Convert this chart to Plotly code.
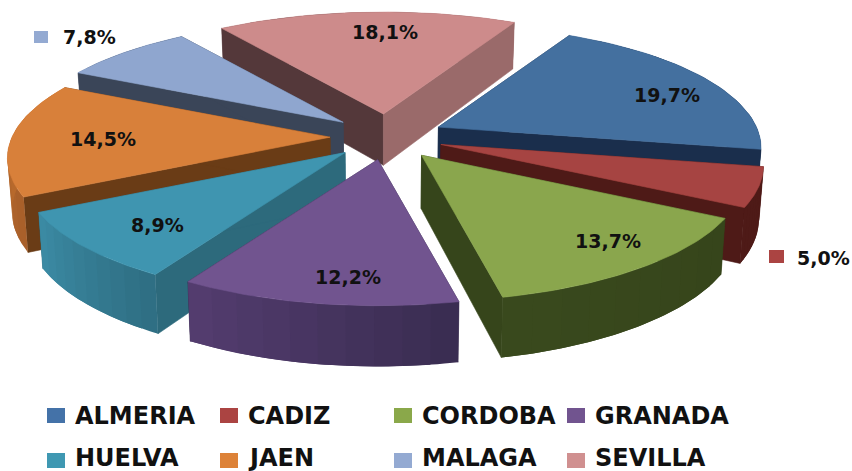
import math
import plotly.graph_objects as go

categories = ["ALMERIA", "CADIZ", "CORDOBA", "GRANADA", "HUELVA", "JAEN", "MALAGA", "SEVILLA"]
shares = [19.7, 5.0, 13.7, 12.2, 8.9, 14.5, 7.8, 18.1]
share_labels = ["19,7%", "5,0%", "13,7%", "12,2%", "8,9%", "14,5%", "7,8%", "18,1%"]

top_colors = ["#44709f", "#a64442", "#8aa64d", "#71548f", "#3f95b0", "#d8803a", "#8fa6cf", "#cd8b8b"]
start_wall = ["#1a2e4c", "#4e1a17", "#36451b", "#372b4e", "#2d6a7c", "#6a3c16", "#3a4558", "#54383a"]
end_wall = ["#1a2e4c", "#4e1a17", "#36451b", "#372b4e", "#2d6a7c", "#6a3c16", "#3a4558", "#9a6a6a"]
outer_from = ["#1a2e4c", "#4e1a17", "#36451b", "#3a2d52", "#2f6f84", "#a9602a", "#3a4558", "#54383a"]
outer_to = ["#1a2e4c", "#4e1a17", "#39491d", "#533c6e", "#3b8aa3", "#c8752f", "#3a4558", "#9a6a6a"]
legend_swatches = ["#4472a8", "#ab4442", "#8aa84a", "#71548f", "#3f98b2", "#dd8238", "#94aad2", "#d09090"]

# Projection of the tilted, exploded pie onto the page (pixels)
FIRST_ANGLE = 29.0
CX, CY = 387.0, 137.0
PULL_X, PULL_Y = 57.0, 23.0
DRAW_ORDER = [7, 6, 0, 5, 1, 4, 2, 3]
ARC_STEPS = 40
SHADE_STEPS = 10


def rim_offset(deg):
    a = math.radians(deg)
    v = -math.cos(a)
    return (318 + 55 * v) * math.sin(a), (124 + 22 * v) * v


def drop(x, y):
    return x - (x - 385) * 0.012, y + 45.5 + 0.05 * y


def mix(c1, c2, t):
    a = [int(c1[i:i + 2], 16) for i in (1, 3, 5)]
    b = [int(c2[i:i + 2], 16) for i in (1, 3, 5)]
    return "rgb(%d,%d,%d)" % tuple(round(p + (q - p) * t) for p, q in zip(a, b))


fig = go.Figure()


def poly(pts, color, edge=0.6):
    fig.add_trace(go.Scatter(
        x=[p[0] for p in pts] + [pts[0][0]], y=[p[1] for p in pts] + [pts[0][1]],
        mode="lines", fill="toself", fillcolor=color,
        line=dict(color=color, width=edge), hoverinfo="skip", showlegend=False))


total = sum(shares)
cum = [sum(shares[:i]) / total for i in range(len(shares) + 1)]

for i in DRAW_ORDER:
    a0 = FIRST_ANGLE + 360 * cum[i]
    a1 = FIRST_ANGLE + 360 * cum[i + 1]
    am = math.radians((a0 + a1) / 2)
    ax, ay = CX + PULL_X * math.sin(am), CY - PULL_Y * math.cos(am)
    arc = []
    for k in range(ARC_STEPS + 1):
        dx, dy = rim_offset(a0 + (a1 - a0) * k / ARC_STEPS)
        arc.append((ax + dx, ay + dy))
    apex_low = drop(ax, ay)
    step = ARC_STEPS // SHADE_STEPS


    def sides():
        poly([(ax, ay), arc[0], drop(*arc[0]), apex_low], start_wall[i])
        poly([(ax, ay), arc[-1], drop(*arc[-1]), apex_low], end_wall[i])


    def outer():
        for s in range(SHADE_STEPS):
            seg = arc[s * step:(s + 2) * step + 1]  # overlaps the next band, hiding seams
            poly(seg + [drop(*p) for p in reversed(seg)],
                 mix(outer_from[i], outer_to[i], s / (SHADE_STEPS - 1)), edge=0)


    # a slice whose rim faces away has its side walls in front of its rim wall
    if math.cos(am) > 0:
        outer()
        sides()
    else:
        sides()
        outer()
    poly([(ax, ay)] + arc, top_colors[i])

label_xy = [(667, 95), (823, 258), (608, 241), (348, 277), (157, 225), (103, 139), (89, 37), (385, 32)]
annotations = [dict(x=x, y=y, text=t, showarrow=False, xref="x", yref="y",
                    font=dict(family="DejaVu Sans", size=19, color="#111111", weight="bold"))
               for (x, y), t in zip(label_xy, share_labels)]

legend_x = [47, 220, 394, 567]
legend_y = [415.5, 460.5]
text_y = [415.5, 458]
shapes = [dict(type="rect", x0=34, x1=48, y0=31, y1=43, fillcolor=legend_swatches[6], line_width=0),
          dict(type="rect", x0=769, x1=784, y0=250, y1=263, fillcolor=legend_swatches[1], line_width=0)]
for i, name in enumerate(categories):
    x0 = legend_x[i % 4]
    yc = legend_y[i // 4]
    shapes.append(dict(type="rect", x0=x0, x1=x0 + 18, y0=yc - 7.5, y1=yc + 7.5,
                       fillcolor=legend_swatches[i], line_width=0))
    annotations.append(dict(x=x0 + 26, y=text_y[i // 4], text=name, showarrow=False, xanchor="left", xref="x", yref="y",
                            font=dict(family="DejaVu Sans", size=24, color="#111111", weight="bold")))

fig.update_layout(
    width=852, height=471, margin=dict(l=0, r=0, t=0, b=0),
    paper_bgcolor="white", plot_bgcolor="white", showlegend=False,
    xaxis=dict(range=[0, 852], visible=False, fixedrange=True),
    yaxis=dict(range=[471, 0], visible=False, fixedrange=True),
    annotations=annotations, shapes=shapes)

fig.write_html("out.html", config={"displayModeBar": False}, post_script="document.body.style.margin='0';")
